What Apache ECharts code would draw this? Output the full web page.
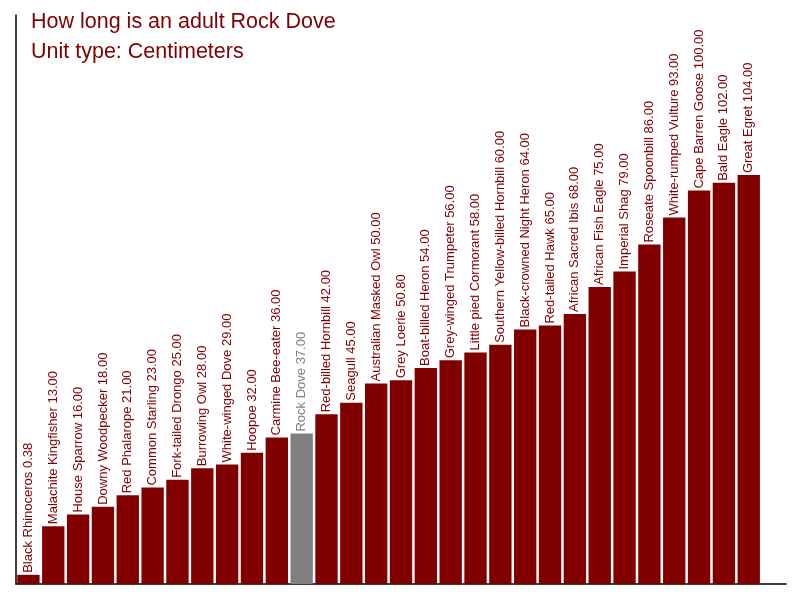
<!DOCTYPE html>
<html>
<head>
<meta charset="utf-8">
<script src="https://cdn.jsdelivr.net/npm/echarts@6/dist/echarts.min.js"></script>
<style>
    html, body {margin: 0; padding: 0; background: #fff;}
    #main {width: 800px; height: 600px;}
</style>
</head>
<body>
<div id="main"></div>
<script>
let birds = ['Black Rhinoceros', 'Malachite Kingfisher', 'House Sparrow', 'Downy Woodpecker', 'Red Phalarope',
    'Common Starling', 'Fork-tailed Drongo', 'Burrowing Owl', 'White-winged Dove', 'Hoopoe',
    'Carmine Bee-eater', 'Rock Dove', 'Red-billed Hornbill', 'Seagull', 'Australian Masked Owl',
    'Grey Loerie', 'Boat-billed Heron', 'Grey-winged Trumpeter', 'Little pied Cormorant', 'Southern Yellow-billed Hornbill',
    'Black-crowned Night Heron', 'Red-tailed Hawk', 'African Sacred Ibis', 'African Fish Eagle', 'Imperial Shag',
    'Roseate Spoonbill', 'White-rumped Vulture', 'Cape Barren Goose', 'Bald Eagle', 'Great Egret'];
let lengths = [0.38, 13, 16, 18, 21, 23, 25, 28, 29, 32,
    36, 37, 42, 45, 50, 50.8, 54, 56, 58, 60,
    64, 65, 68, 75, 79, 86, 93, 100, 102, 104];
let highlight = 'Rock Dove';

window.addEventListener("load", function () {
    let chart = echarts.init(document.getElementById('main'));

    let red = '#800000';
    let grey = '#808080';

    // rock dove gets grey, the rest dark red
    let barData = birds.map(function (name, i) {
        let c = name === highlight ? grey : red;
        return {
            value: lengths[i],
            itemStyle: {color: c},
            label: {color: c}
        };
    });

    let option = {
        animation: false,
        title: {
            text: 'How long is an adult Rock Dove\nUnit type: Centimeters',
            left: 26,
            top: 2,
            textStyle: {
                color: red,
                fontFamily: 'Liberation Sans',
                fontWeight: 'normal',
                fontSize: 21.5,
                lineHeight: 30
            }
        },
        grid: {left: 16, right: 14, top: 15, bottom: 16, containLabel: false},
        xAxis: {
            type: 'category',
            data: birds,
            max: 30,
            axisLine: {onZero: false, lineStyle: {color: '#000', width: 1.5}},
            axisTick: {show: false},
            axisLabel: {show: false}
        },
        yAxis: {
            type: 'value',
            min: -2,
            max: 145.5,
            startValue: -2,
            axisLine: {show: true, lineStyle: {color: '#000', width: 1.5}},
            axisTick: {show: false},
            axisLabel: {show: false},
            splitLine: {show: false}
        },
        series: [{
            type: 'bar',
            data: barData,
            barCategoryGap: '10%',
            label: {
                show: true,
                position: 'top',
                rotate: 90,
                align: 'left',
                verticalAlign: 'middle',
                distance: 2,
                fontFamily: 'Liberation Sans',
                fontSize: 13,
                formatter: function (p) {
                    return p.name + ' ' + p.value.toFixed(2);
                }
            }
        }]
    };

    chart.setOption(option);
}, false);
</script>
</body>
</html>
